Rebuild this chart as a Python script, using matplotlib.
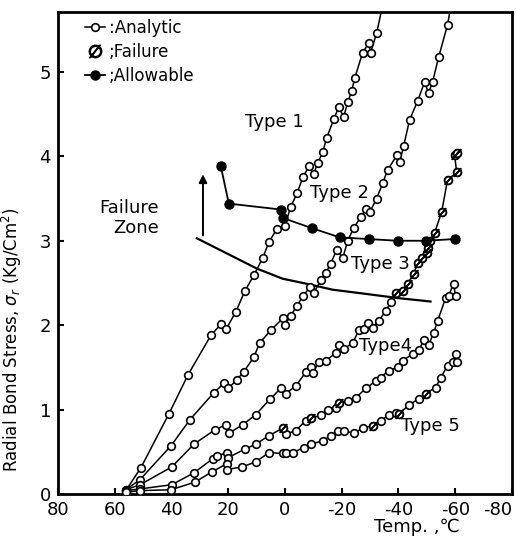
import numpy as np
import matplotlib.pyplot as plt
from matplotlib.lines import Line2D

plt.rcParams['font.family'] = ['DejaVu Sans']
plt.rcParams['axes.unicode_minus'] = False

# analytic curves, temperature (C) vs radial bond stress (kg/cm2)
type1_t = [56.1, 50.8, 40.9, 34.2, 26.1, 22.6, 20.8, 17.3, 14.2, 11.0, 7.8, 5.7, 2.9, 0.1,
           -2.0, -4.2, -6.3, -8.4, -10.1, -11.5, -13.3, -14.7, -17.2, -18.9, -20.7, -22.1,
           -23.5, -24.6, -27.4, -29.5, -30.2, -32.3, -34.8]
type1_s = [0.04, 0.31, 0.95, 1.41, 1.88, 2.01, 1.95, 2.16, 2.40, 2.59, 2.80, 2.98, 3.14, 3.17,
           3.40, 3.56, 3.75, 3.88, 3.79, 3.92, 4.05, 4.22, 4.44, 4.58, 4.47, 4.64,
           4.77, 4.93, 5.23, 5.34, 5.23, 5.46, 5.85]

type2_t = [56.1, 51.1, 40.2, 33.5, 25.1, 21.5, 20.1, 17.0, 14.5, 11.0, 8.9, 5.0, 0.8, 0.1,
           -2.0, -4.2, -6.3, -8.7, -10.1, -12.6, -14.4, -16.1, -18.2, -20.4, -22.1, -24.2,
           -26.7, -28.5, -29.9, -32.3, -34.4, -36.2, -39.4, -40.4, -41.8, -43.9, -46.8,
           -49.2, -50.6, -52.0, -54.2, -57.3, -58.8]
type2_s = [0.05, 0.17, 0.57, 0.88, 1.20, 1.31, 1.25, 1.35, 1.45, 1.62, 1.79, 1.94, 2.08, 2.00,
           2.11, 2.23, 2.34, 2.45, 2.38, 2.53, 2.62, 2.73, 2.89, 2.80, 3.00, 3.15,
           3.28, 3.38, 3.34, 3.50, 3.68, 3.84, 4.01, 3.93, 4.12, 4.43, 4.66,
           4.88, 4.75, 4.88, 5.18, 5.56, 5.85]

type3_t = [56.1, 51.1, 39.9, 32.1, 24.7, 20.8, 19.8, 14.9, 10.3, 5.4, 1.5, -0.3, -3.8, -7.3,
           -9.1, -9.8, -11.9, -14.4, -17.9, -18.9, -20.7, -23.9, -26.0, -27.7, -29.2, -30.9,
           -33.0, -35.5, -37.3, -39.0, -41.5, -43.2, -45.4, -46.8, -48.2, -49.9, -50.3,
           -51.0, -52.7, -55.2, -57.3, -60.5, -59.8, -60.8]
type3_s = [0.05, 0.11, 0.32, 0.59, 0.76, 0.82, 0.72, 0.82, 0.94, 1.12, 1.25, 1.19, 1.28, 1.44,
           1.50, 1.43, 1.56, 1.58, 1.67, 1.76, 1.72, 1.79, 1.94, 1.96, 2.03, 1.97,
           2.05, 2.17, 2.27, 2.38, 2.41, 2.49, 2.61, 2.74, 2.79, 2.85, 2.92,
           3.00, 3.09, 3.34, 3.72, 3.81, 4.01, 4.04]

type4_t = [56.1, 51.1, 39.9, 32.1, 25.4, 24.0, 20.5, 20.1, 14.2, 10.3, 5.7, 0.8, -0.3, -3.8,
           -7.3, -9.1, -12.6, -15.1, -17.9, -18.9, -22.1, -24.9, -28.5, -32.0, -33.7, -36.5,
           -39.7, -41.5, -45.0, -47.1, -48.9, -50.6, -52.4, -53.8, -56.6, -57.7, -59.4, -60.1]
type4_s = [0.04, 0.06, 0.11, 0.25, 0.42, 0.45, 0.49, 0.43, 0.53, 0.59, 0.69, 0.78, 0.71, 0.75,
           0.87, 0.90, 0.93, 0.99, 1.02, 1.08, 1.10, 1.14, 1.25, 1.34, 1.38, 1.46,
           1.50, 1.58, 1.66, 1.70, 1.82, 1.76, 1.91, 2.05, 2.32, 2.35, 2.49, 2.35]

type5_t = [56.1, 51.1, 40.2, 31.8, 25.8, 20.5, 20.5, 15.2, 10.3, 5.7, 0.8, -0.3, -2.7, -6.6,
           -9.1, -13.3, -16.1, -18.6, -20.7, -24.2, -27.4, -30.9, -33.7, -36.5, -39.0, -40.1,
           -43.6, -47.1, -49.6, -53.1, -54.9, -57.3, -59.1, -60.1, -60.8]
type5_s = [0.02, 0.04, 0.05, 0.14, 0.26, 0.36, 0.29, 0.32, 0.38, 0.49, 0.48, 0.49, 0.49, 0.55,
           0.59, 0.63, 0.69, 0.75, 0.75, 0.72, 0.78, 0.81, 0.87, 0.93, 0.96, 0.95,
           1.05, 1.13, 1.19, 1.26, 1.38, 1.52, 1.56, 1.66, 1.56]

# failure points (slashed circles)
fail_t = [-39.0, -41.5, -43.2, -45.4, -46.8, -48.2, -49.9, -50.3, -51.0, -52.7, -55.2,
          -57.3, -60.5, -59.8, -60.8, 0.8, -9.1, -18.9, -30.9, -40.1, -49.6]
fail_s = [2.38, 2.41, 2.49, 2.61, 2.74, 2.79, 2.85, 2.92, 3.00, 3.09, 3.34,
          3.72, 3.81, 4.01, 4.04, 0.78, 0.90, 1.08, 0.81, 0.95, 1.19]

# allowable stress
allow_t = [22.6, 19.8, 1.5, 0.8, -9.4, -19.3, -29.5, -39.7, -49.6, -59.8]
allow_s = [3.88, 3.44, 3.37, 3.27, 3.15, 3.04, 3.02, 3.00, 3.00, 3.02]

# failure zone boundary
zone_t = [31.1, 20.5, 9.9, 0.8, -7.7, -16.8, -26.3, -40.1, -51.3]
zone_s = [3.03, 2.85, 2.67, 2.55, 2.49, 2.42, 2.38, 2.32, 2.28]
arrow_t = 28.9
arrow_s = (3.03, 3.82)

type_labels = ['Type 1', 'Type 2', 'Type 3', 'Type4', 'Type 5']
label_t = [3.9, -19.3, -33.7, -35.5, -51.3]
label_s = [4.41, 3.56, 2.72, 1.75, 0.81]

curves = [(type1_t, type1_s), (type2_t, type2_s), (type3_t, type3_s),
          (type4_t, type4_s), (type5_t, type5_s)]

fig = plt.figure(figsize=(5.16, 5.40), dpi=100)
ax = fig.add_axes([0.1124, 0.0852, 0.8798, 0.8926])

open_kw = dict(color='black', lw=1.1, marker='o', ms=5.5, mfc='white', mec='black', mew=1.2)
for t, s in curves:
    ax.plot(t, s, zorder=3, **open_kw)

ax.plot(fail_t, fail_s, ls='none', marker='o', ms=5.5, mfc='white', mec='black', mew=1.3, zorder=4)
ax.plot(fail_t, fail_s, ls='none', marker=(2, 2, -40), ms=8, mec='black', mew=1.2, zorder=4)

ax.plot(allow_t, allow_s, color='black', lw=1.3, marker='o', ms=6.5, mfc='black', mec='black', zorder=5)

ax.plot(zone_t, zone_s, color='black', lw=1.6, zorder=2)
ax.annotate('', xy=(arrow_t, arrow_s[1]), xytext=(arrow_t, arrow_s[0]),
            arrowprops=dict(arrowstyle='-|>', lw=1.4, color='black', mutation_scale=12))
ax.text(44.4, 3.27, 'Failure\nZone', fontsize=13, ha='right', va='center', multialignment='right')

for lab, t, s in zip(type_labels, label_t, label_s):
    ax.text(t, s, lab, fontsize=13, ha='center', va='center')

handles = [Line2D([], [], **open_kw),
           Line2D([], [], ls='none', marker=r'$\varnothing$', ms=9, color='black'),
           Line2D([], [], color='black', lw=1.3, marker='o', ms=6.5, mfc='black')]
ax.legend(handles, [':Analytic', ';Failure', ';Allowable'], loc='upper left',
          bbox_to_anchor=(0.06, 0.985), frameon=False, fontsize=12, handlelength=1.2,
          handletextpad=0.2, labelspacing=0.35, borderpad=0, borderaxespad=0)

ax.set_xlim(80, -80)
ax.set_ylim(0, 5.71)
ax.set_xticks(range(80, -81, -20))
ax.set_yticks(range(6))
ax.tick_params(direction='in', length=4, width=1.5, labelsize=13, pad=5)
ax.get_xticklabels()[-1].set_horizontalalignment('right')
for sp in ax.spines.values():
    sp.set_linewidth(2)

ax.set_ylabel(r'Radial Bond Stress, $\sigma_r$ (Kg/Cm$^2$)', fontsize=12)
ax.yaxis.set_label_coords(-0.075, 0.32)
ax.set_xlabel('Temp. ,℃', fontsize=13)
ax.xaxis.set_label_coords(0.79, -0.05)

fig.savefig('out.png', dpi=100)
